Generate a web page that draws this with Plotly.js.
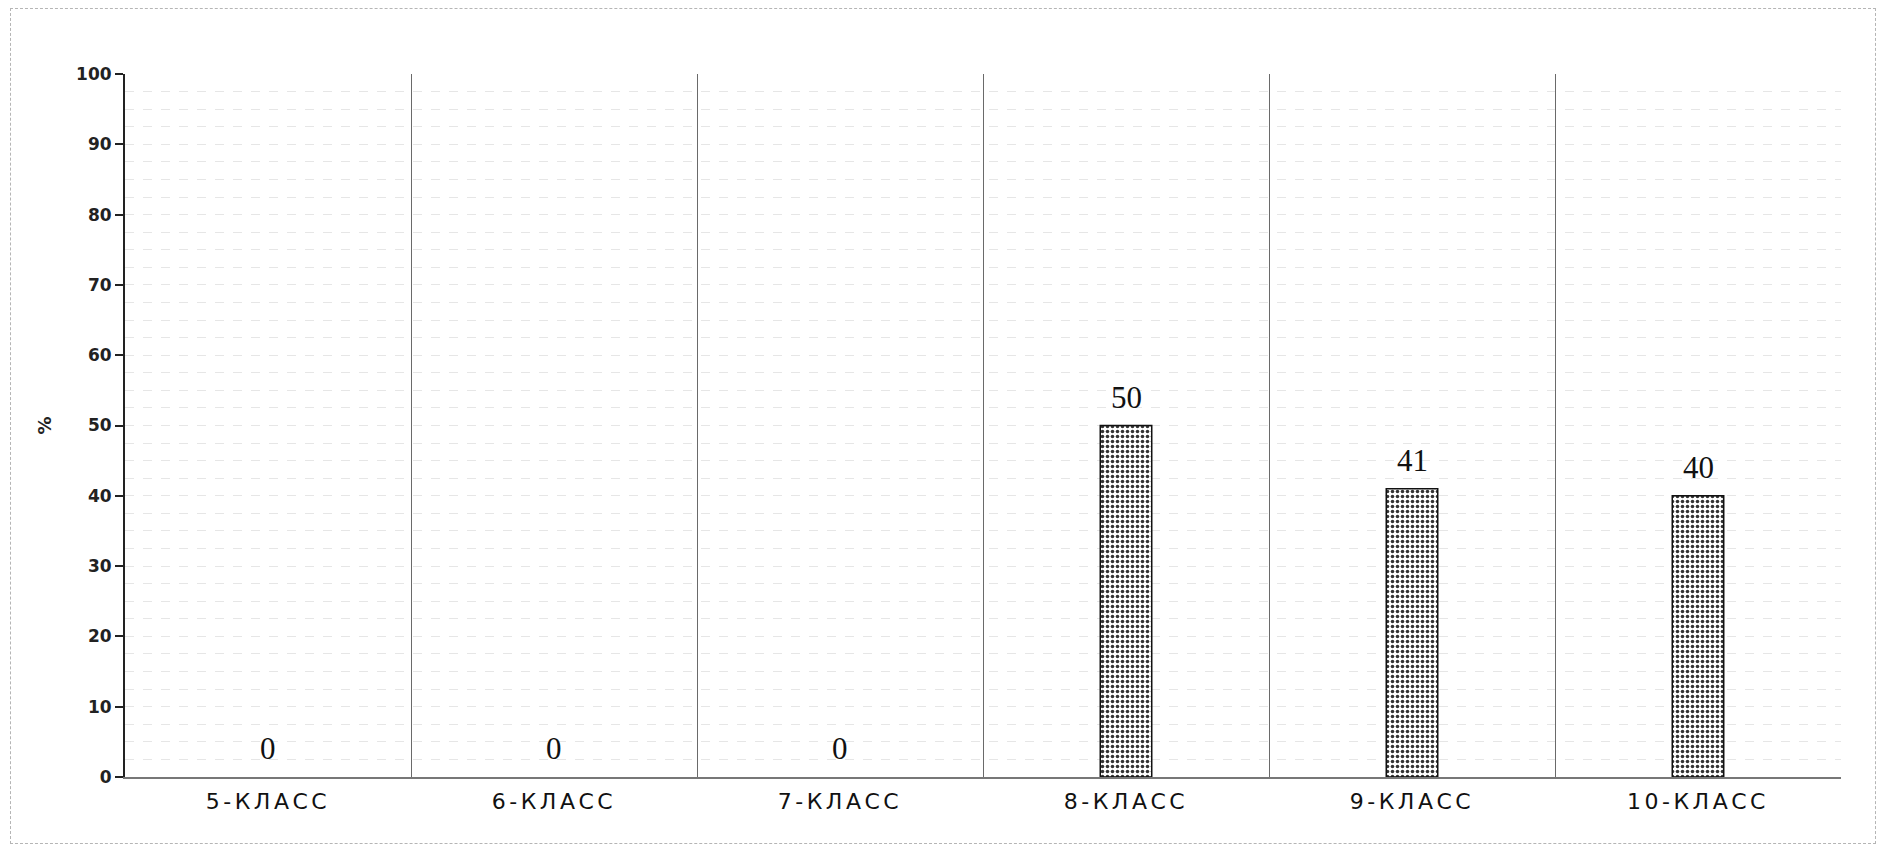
<!DOCTYPE html>
<html>
<head>
<meta charset="utf-8">
<script src="https://cdn.plot.ly/plotly-3.0.1.min.js"></script>
<style>
html, body { margin: 0; padding: 0; background: #fff; }
#wrap { position: relative; width: 1881px; height: 851px; }
#chart { width: 1881px; height: 851px; }
#frame { position: absolute; left: 10px; top: 8px; width: 1866px; height: 836px;
  border: 1px dashed #b5b5b5; pointer-events: none; box-sizing: border-box; }
.xtick text { letter-spacing: 3.5px; }
</style>
</head>
<body>
<div id="wrap">
<div id="chart"></div>
<div id="frame"></div>
</div>
<script>
const categories = ["5-КЛАСС", "6-КЛАСС", "7-КЛАСС", "8-КЛАСС", "9-КЛАСС", "10-КЛАСС"];
const values = [0, 0, 0, 50, 41, 40];
const valueLabels = ["0", "0", "0", "50", "41", "40"];
const yTicks = [0, 10, 20, 30, 40, 50, 60, 70, 80, 90, 100];

const trace = {
  type: "bar",
  x: categories,
  y: values,
  width: 0.18,
  marker: {
    color: "#ffffff",
    line: { color: "#111", width: values.map(v => (v > 0 ? 1.5 : 0)) },
    pattern: { shape: ".", fgcolor: "#333", bgcolor: "#ffffff", size: 5, solidity: 0.4 }
  },
  hoverinfo: "skip"
};

const annotations = categories.map((c, i) => ({
  x: c,
  y: values[i],
  xref: "x",
  yref: "y",
  text: valueLabels[i],
  showarrow: false,
  yanchor: "bottom",
  yshift: 9,
  font: { family: "Liberation Serif, DejaVu Serif, serif", size: 31, color: "#111" }
}));

const layout = {
  width: 1881,
  height: 851,
  margin: { l: 125, r: 40, t: 74, b: 74 },
  paper_bgcolor: "#ffffff",
  plot_bgcolor: "#ffffff",
  showlegend: false,
  annotations: annotations,
  xaxis: {
    type: "category",
    tickson: "boundaries",
    showgrid: true,
    gridcolor: "#6a6a6a",
    gridwidth: 1,
    showline: true,
    linecolor: "#777",
    linewidth: 1.5,
    ticks: "",
    ticklabelstandoff: 4,
    tickfont: { family: "DejaVu Sans, sans-serif", size: 22, color: "#111" },
    zeroline: false
  },
  yaxis: {
    range: [0, 100],
    tickvals: yTicks,
    ticktext: yTicks.map(String),
    showgrid: false,
    zeroline: false,
    showline: true,
    linecolor: "#222",
    linewidth: 2,
    ticks: "outside",
    ticklen: 8,
    tickwidth: 2,
    tickcolor: "#222",
    tickfont: { family: "DejaVu Sans, sans-serif", size: 17, color: "#222", weight: "bold" },
    minor: { dtick: 2.5, showgrid: true, gridcolor: "#e6e6e6", gridwidth: 1, griddash: "dash", ticks: "" },
    title: { text: "%", standoff: 20, font: { family: "DejaVu Sans, sans-serif", size: 18, color: "#222", weight: "bold" } }
  },
  bargap: 0.82
};

Plotly.newPlot("chart", [trace], layout, { displayModeBar: false, staticPlot: true });
</script>
</body>
</html>
